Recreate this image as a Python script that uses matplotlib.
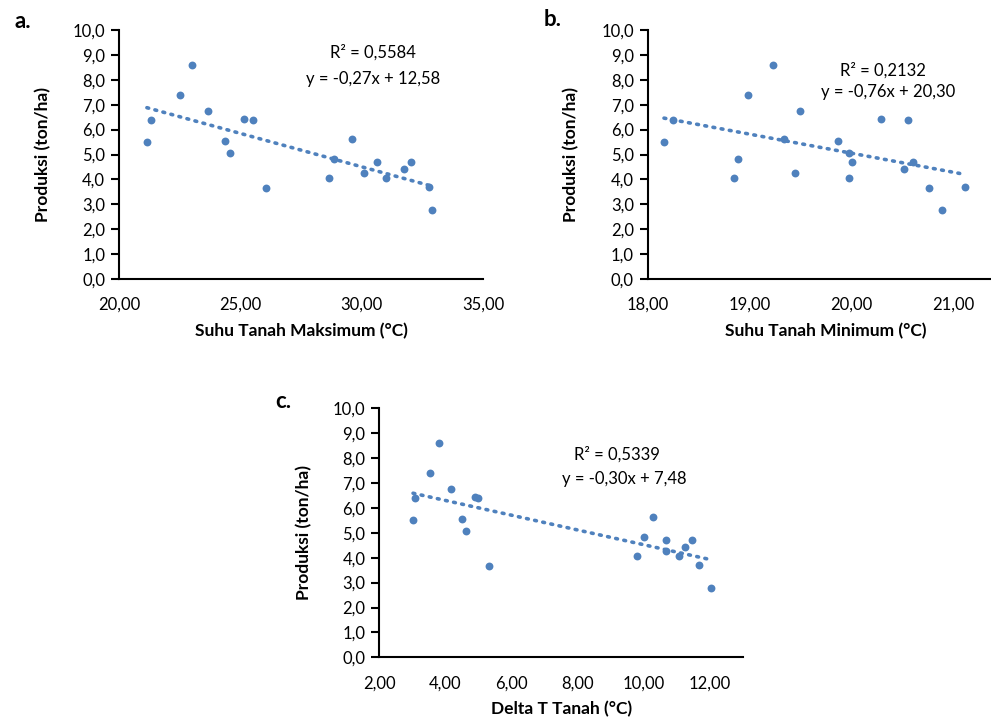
import numpy as np
import matplotlib.pyplot as plt

plt.rcParams['font.family'] = ['Lato', 'DejaVu Sans']

# produksi (ton/ha), shared by all three panels (read per panel)
prod_a = [5.49, 6.39, 7.37, 8.58, 6.75, 5.55, 5.07, 6.44, 6.38, 3.64,
          4.06, 4.83, 5.61, 4.25, 4.68, 4.06, 4.41, 4.69, 3.70, 2.78]
tmax = [21.15, 21.30, 22.51, 23.01, 23.65, 24.35, 24.56, 25.16, 25.52, 26.04,
        28.64, 28.87, 29.59, 30.11, 30.63, 31.02, 31.73, 32.05, 32.76, 32.88]

prod_b = [5.49, 6.39, 4.06, 4.83, 7.37, 8.58, 5.61, 4.25, 6.75, 5.55,
          5.07, 4.06, 4.68, 6.44, 4.41, 6.38, 4.69, 3.64, 2.78, 3.70]
tmin = [18.16, 18.25, 18.85, 18.89, 18.98, 19.23, 19.34, 19.45, 19.49, 19.87,
        19.98, 19.98, 20.00, 20.29, 20.51, 20.55, 20.60, 20.76, 20.89, 21.11]

prod_c = [5.50, 6.40, 7.39, 8.61, 6.76, 5.56, 5.07, 6.45, 6.39, 3.65,
          4.07, 4.83, 5.64, 4.70, 4.26, 4.08, 4.43, 4.71, 3.72, 2.77]
dtemp = [3.02, 3.08, 3.54, 3.80, 4.18, 4.50, 4.61, 4.89, 4.99, 5.32,
         9.80, 9.99, 10.28, 10.65, 10.67, 11.05, 11.23, 11.45, 11.66, 12.01]

xlabels = ['Suhu Tanah Maksimum (°C)', 'Suhu Tanah Minimum (°C)', 'Delta T Tanah (°C)']
panel_names = ['a.', 'b.', 'c.']
r2_texts = ['R² = 0,5584', 'R² = 0,2132', 'R² = 0,5339']
eq_texts = ['y = -0,27x + 12,58', 'y = -0,76x + 20,30', 'y = -0,30x + 7,48']

blue = '#4F81BD'

fig = plt.figure(figsize=(9.91, 7.22), dpi=100)

def px(x, y):
    # pixel position (from top-left) -> figure fraction
    return x / 991, 1 - y / 722

def make_panel(rect, xs, ys, xlim, xticks, idx, r2_pos, eq_pos, name_pos, ylab_x):
    ax = fig.add_axes(rect)
    ax.scatter(xs, ys, s=32, color=blue, zorder=3, linewidths=0)
    slope, icpt = np.polyfit(xs, ys, 1)
    xx = np.array([min(xs), max(xs)])
    ax.plot(xx, slope * xx + icpt, color=blue, lw=2.6, linestyle=(0, (0.5, 1.8)),
            dash_capstyle='round', zorder=2)
    ax.set_xlim(*xlim)
    ax.set_ylim(0, 10)
    ax.set_xticks(xticks)
    ax.set_xticklabels([('%.2f' % t).replace('.', ',') for t in xticks])
    yt = np.arange(0, 11, 1)
    ax.set_yticks(yt)
    ax.set_yticklabels([('%.1f' % t).replace('.', ',') for t in yt])
    for s in ['top', 'right']:
        ax.spines[s].set_visible(False)
    for s in ['left', 'bottom']:
        ax.spines[s].set_linewidth(1.5)
    ax.tick_params(axis='y', length=6, width=1.5, pad=4, labelsize=12, colors='#000000')
    ax.tick_params(axis='x', length=0, pad=13, labelsize=12)
    ax.set_xlabel(xlabels[idx], fontsize=12.5, fontweight='bold')
    ax.xaxis.set_label_coords(0.5, -0.175)
    ax.set_ylabel('Produksi (ton/ha)', fontsize=12.5, fontweight='bold')
    ax.yaxis.set_label_coords((ylab_x - rect[0] * 991) / (rect[2] * 991), 0.5)
    fig.text(*px(*r2_pos), r2_texts[idx], ha='center', va='center', fontsize=12)
    fig.text(*px(*eq_pos), eq_texts[idx], ha='center', va='center', fontsize=12)
    fig.text(*px(*name_pos), panel_names[idx], ha='center', va='center', fontsize=16, fontweight='bold')
    return ax

h = 249 / 722
make_panel([119 / 991, 1 - 279 / 722, 364 / 991, h], tmax, prod_a, (20, 35), [20, 25, 30, 35], 0,
           (373, 52), (373, 79), (23, 21), 51)
make_panel([647.7 / 991, 1 - 279 / 722, 356.7 / 991, h], tmin, prod_b, (18, 21.5), [18, 19, 20, 21], 1,
           (883, 70), (888, 92), (553, 20), 579)
make_panel([379.3 / 991, 1 - 657.3 / 722, 364 / 991, h], dtemp, prod_c, (2, 13), [2, 4, 6, 8, 10, 12], 2,
           (617, 454), (624, 479), (283, 401), 312)

fig.savefig('out.png', dpi=100)
